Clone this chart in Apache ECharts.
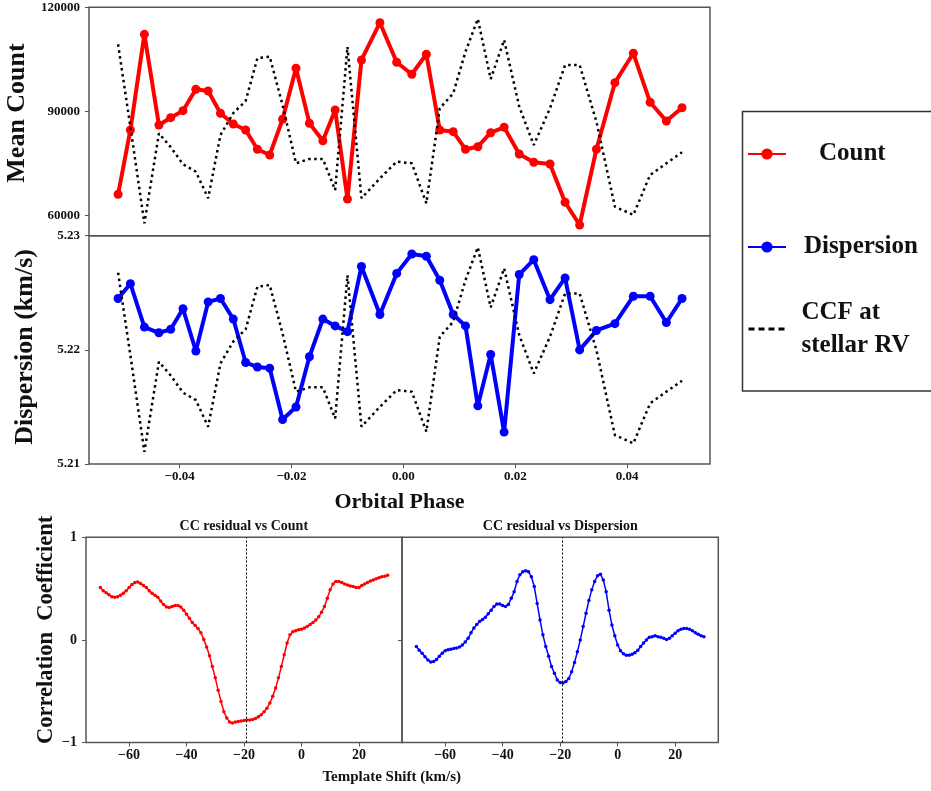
<!DOCTYPE html>
<html>
<head>
<meta charset="utf-8">
<script src="https://cdn.jsdelivr.net/npm/echarts@6/dist/echarts.min.js"></script>
<style>
  html, body { margin: 0; padding: 0; background: #fff; }
  #chart { width: 931px; height: 791px; }
</style>
</head>
<body>
<div id="chart"></div>
<script>
// orbital phase of each exposure
const phase = [-0.0510, -0.0488, -0.0463, -0.0437, -0.0416, -0.0394, -0.0371, -0.0349, -0.0327, -0.0304,
  -0.0282, -0.0261, -0.0239, -0.0216, -0.0192, -0.0168, -0.0144, -0.0122, -0.0100, -0.0075,
  -0.0042, -0.0012, 0.0015, 0.0041, 0.0065, 0.0089, 0.0111, 0.0133, 0.0156, 0.0180,
  0.0207, 0.0233, 0.0262, 0.0289, 0.0315, 0.0345, 0.0378, 0.0411, 0.0441, 0.0470, 0.0498]
const meanCount = [66050, 84600, 112200, 86040, 88150, 90170, 96340, 95850, 89420, 86330,
  84600, 79030, 77390, 87690, 102400, 86530, 81510, 90370, 64690, 104800,
  115560, 104130, 100670, 106440, 84600, 84110, 79030, 79780, 83820, 85380,
  77680, 75280, 74790, 63740, 57190, 79030, 98250, 106730, 92590, 87200, 91030]
const dispersion = [5.2245, 5.2258, 5.2220, 5.2215, 5.2218, 5.2236, 5.2199, 5.2242, 5.2245, 5.2227,
  5.2189, 5.2185, 5.2184, 5.2139, 5.2150, 5.2194, 5.2227, 5.2221, 5.2216, 5.2273,
  5.2231, 5.2267, 5.2284, 5.2282, 5.2261, 5.2231, 5.2221, 5.2151, 5.2196, 5.2128,
  5.2266, 5.2279, 5.2244, 5.2263, 5.2200, 5.2217, 5.2223, 5.2247, 5.2247, 5.2224, 5.2245]
// CCF at stellar RV (arbitrary units, twin axis)
const ccfStellar = [0.838, 0.476, 0.054, 0.448, 0.388, 0.313, 0.280, 0.164, 0.441, 0.537,
  0.590, 0.777, 0.784, 0.572, 0.317, 0.336, 0.336, 0.200, 0.827, 0.164,
  0.251, 0.324, 0.317, 0.142, 0.558, 0.623, 0.806, 0.949, 0.686, 0.857,
  0.565, 0.397, 0.558, 0.747, 0.747, 0.499, 0.127, 0.091, 0.266, 0.317, 0.365]

// template shift (km/s) and correlation coefficients
const shift = [-70, -69, -68, -67, -66, -65, -64, -63, -62, -61, -60, -59, -58, -57, -56, -55, -54, -53, -52, -51,
  -50, -49, -48, -47, -46, -45, -44, -43, -42, -41, -40, -39, -38, -37, -36, -35, -34, -33, -32, -31,
  -30, -29, -28, -27, -26, -25, -24, -23, -22, -21, -20, -19, -18, -17, -16, -15, -14, -13, -12, -11,
  -10, -9, -8, -7, -6, -5, -4, -3, -2, -1, 0, 1, 2, 3, 4, 5, 6, 7, 8, 9,
  10, 11, 12, 13, 14, 15, 16, 17, 18, 19, 20, 21, 22, 23, 24, 25, 26, 27, 28, 29, 30]
const ccCount = [0.51, 0.48, 0.46, 0.44, 0.42, 0.415, 0.42, 0.435, 0.455, 0.48, 0.51, 0.54, 0.56, 0.565, 0.55, 0.53, 0.51, 0.48, 0.455, 0.435,
  0.415, 0.38, 0.345, 0.32, 0.315, 0.325, 0.335, 0.335, 0.32, 0.29, 0.25, 0.21, 0.17, 0.14, 0.11, 0.07, 0.005, -0.07, -0.155, -0.26,
  -0.37, -0.49, -0.60, -0.70, -0.76, -0.80, -0.81, -0.80, -0.795, -0.79, -0.785, -0.78, -0.78, -0.775, -0.765, -0.75, -0.73, -0.70, -0.665, -0.615,
  -0.55, -0.47, -0.37, -0.26, -0.145, -0.03, 0.05, 0.08, 0.09, 0.10, 0.105, 0.115, 0.13, 0.15, 0.17, 0.195, 0.225, 0.27, 0.325, 0.405,
  0.49, 0.545, 0.57, 0.57, 0.56, 0.545, 0.535, 0.525, 0.52, 0.51, 0.51, 0.53, 0.545, 0.56, 0.575, 0.585, 0.595, 0.605, 0.615, 0.62, 0.63]
const ccDispersion = [-0.065, -0.10, -0.13, -0.165, -0.195, -0.215, -0.21, -0.19, -0.16, -0.13, -0.105, -0.095, -0.09, -0.085, -0.08, -0.07, -0.05, -0.02, 0.015, 0.07,
  0.115, 0.15, 0.18, 0.20, 0.22, 0.255, 0.29, 0.325, 0.35, 0.35, 0.335, 0.325, 0.345, 0.405, 0.47, 0.57, 0.635, 0.665, 0.675, 0.665,
  0.615, 0.52, 0.355, 0.195, 0.05, -0.065, -0.16, -0.26, -0.325, -0.39, -0.415, -0.42, -0.405, -0.375, -0.31, -0.22, -0.115, 0.0, 0.13, 0.26,
  0.385, 0.49, 0.57, 0.625, 0.64, 0.585, 0.47, 0.29, 0.145, 0.04, -0.05, -0.105, -0.135, -0.15, -0.15, -0.14, -0.125, -0.10, -0.065, -0.03,
  0.0, 0.025, 0.03, 0.04, 0.03, 0.025, 0.015, 0.005, 0.015, 0.04, 0.065, 0.09, 0.105, 0.11, 0.11, 0.105, 0.09, 0.07, 0.055, 0.04, 0.03]
const stellarRV = -19.3

const countTicks = [60000, 90000, 120000]
const dispTicks = [5.21, 5.22, 5.23]
const phaseTicks = [-0.04, -0.02, 0.00, 0.02, 0.04]
const shiftTicks = [-60, -40, -20, 0, 20]

const serif = 'Liberation Serif, Times New Roman, serif'
const frame = '#555'
const minus = (s) => s.replace('-', '\u2212')

const pairs = (xs, ys) => xs.map((x, i) => [x, ys[i]])

function grid(left, top, width, height) {
  return { left, top, width, height, show: true, borderColor: frame, borderWidth: 1.5,
    containLabel: false, outerBoundsMode: 'none' }
}
const noLine = { show: false, onZero: false }
const tick = { show: true, length: 4, lineStyle: { color: frame, width: 1 } }
const label = { fontFamily: serif, fontWeight: 'bold', fontSize: 13, color: '#111' }
const nameFont = (size, pad) => ({ fontFamily: serif, fontWeight: 'bold', fontSize: size, color: '#111', padding: pad })

const chart = echarts.init(document.getElementById('chart'), null, { renderer: 'canvas' })

const option = {
  animation: false,
  backgroundColor: '#fff',
  grid: [
    grid(89, 7.3, 621, 228.4),
    grid(89, 235.7, 621, 228.4),
    grid(86, 537.3, 316, 205.2),
    grid(402, 537.3, 316.3, 205.2)
  ],
  xAxis: [
    { type: 'value', gridIndex: 0, min: -0.0562, max: 0.0548, axisLine: noLine, axisTick: { show: false },
      axisLabel: { show: false }, splitLine: { show: false } },
    { type: 'value', gridIndex: 1, min: -0.0562, max: 0.0548, axisLine: noLine,
      axisTick: Object.assign({ customValues: phaseTicks }, tick),
      axisLabel: Object.assign({ customValues: phaseTicks, margin: 6, formatter: v => minus(v.toFixed(2)) }, label),
      splitLine: { show: false },
      name: 'Orbital Phase', nameLocation: 'middle', nameGap: 27, nameTextStyle: nameFont(22, 0) },
    { type: 'value', gridIndex: 2, min: -75, max: 35, axisLine: noLine,
      axisTick: Object.assign({ customValues: shiftTicks }, tick),
      axisLabel: Object.assign({ customValues: shiftTicks, margin: 6, formatter: v => minus(String(v)) }, label, { fontSize: 14 }),
      splitLine: { show: false } },
    { type: 'value', gridIndex: 3, min: -75, max: 35, axisLine: noLine,
      axisTick: Object.assign({ customValues: shiftTicks }, tick),
      axisLabel: Object.assign({ customValues: shiftTicks, margin: 6, formatter: v => minus(String(v)) }, label, { fontSize: 14 }),
      splitLine: { show: false } }
  ],
  yAxis: [
    { type: 'value', gridIndex: 0, min: 54100, max: 120000, axisLine: noLine,
      axisTick: Object.assign({ customValues: countTicks }, tick),
      axisLabel: Object.assign({ customValues: countTicks, margin: 9, formatter: v => String(v) }, label),
      splitLine: { show: false },
      name: 'Mean Count', nameLocation: 'middle', nameGap: 54, nameTextStyle: nameFont(26, [0, 0, 0, 17]) },
    { type: 'value', gridIndex: 1, min: 5.21, max: 5.23, axisLine: noLine,
      axisTick: Object.assign({ customValues: dispTicks }, tick),
      axisLabel: Object.assign({ customValues: dispTicks, margin: 9, formatter: v => v.toFixed(2) }, label),
      splitLine: { show: false },
      name: 'Dispersion (km/s)', nameLocation: 'middle', nameGap: 51, nameTextStyle: nameFont(26, [0, 0, 0, 6]) },
    { type: 'value', gridIndex: 2, min: -1, max: 1, interval: 1, axisLine: noLine,
      axisTick: tick,
      axisLabel: Object.assign({ margin: 9, formatter: v => minus(String(v)) }, label, { fontSize: 14 }),
      splitLine: { show: false },
      name: 'Correlation  Coefficient', nameLocation: 'middle', nameGap: 26, nameTextStyle: nameFont(22.5, [0, 0, 0, 20]) },
    { type: 'value', gridIndex: 3, min: -1, max: 1, interval: 1, axisLine: noLine,
      axisTick: tick, axisLabel: { show: false }, splitLine: { show: false } },
    // twin axes for the CCF curve
    { type: 'value', gridIndex: 0, min: 0, max: 1, show: false },
    { type: 'value', gridIndex: 1, min: 0, max: 1, show: false }
  ],
  legend: [
    { data: ['Count'], left: 747, top: 141, padding: 0, itemWidth: 38, itemHeight: 14,
      textStyle: { fontFamily: serif, fontWeight: 'bold', fontSize: 25, color: '#111', lineHeight: 26, padding: [0, 0, 0, 28] } },
    { data: ['Dispersion'], left: 747, top: 234, padding: 0, itemWidth: 38, itemHeight: 14,
      textStyle: { fontFamily: serif, fontWeight: 'bold', fontSize: 25, color: '#111', lineHeight: 26, padding: [0, 0, 0, 13] } },
    { data: ['CCF at stellar RV'], left: 747, top: 278, padding: 0, itemWidth: 38, itemHeight: 14,
      itemStyle: { opacity: 0 },
      lineStyle: { width: 3, type: [6, 4] },
      formatter: () => 'CCF at\nstellar RV',
      textStyle: { fontFamily: serif, fontWeight: 'bold', fontSize: 25, color: '#111', lineHeight: 33, padding: [36, 0, 0, 10] } }
  ],
  graphic: [
    { type: 'rect', shape: { x: 742.5, y: 111.5, width: 200, height: 279.5 },
      style: { fill: 'none', stroke: '#333', lineWidth: 1.5 } },
    { type: 'text', x: 243.8, y: 526.7,
      style: { text: 'CC residual vs Count', fill: '#111', font: 'bold 14px ' + serif, textAlign: 'center', textVerticalAlign: 'middle' } },
    { type: 'text', x: 560.3, y: 526.7,
      style: { text: 'CC residual vs Dispersion', fill: '#111', font: 'bold 14px ' + serif, textAlign: 'center', textVerticalAlign: 'middle' } },
    { type: 'text', x: 391.7, y: 776.7,
      style: { text: 'Template Shift (km/s)', fill: '#111', font: 'bold 15px ' + serif, textAlign: 'center', textVerticalAlign: 'middle' } }
  ],
  series: [
    { name: 'Count', type: 'line', xAxisIndex: 0, yAxisIndex: 0, data: pairs(phase, meanCount),
      color: '#ff0000', lineStyle: { width: 4 }, symbol: 'circle', symbolSize: 9, z: 2 },
    { name: 'CCF at stellar RV', type: 'line', xAxisIndex: 0, yAxisIndex: 4, data: pairs(phase, ccfStellar),
      color: '#000', symbol: 'none', lineStyle: { width: 2.5, type: [2.5, 3.5], cap: 'butt' }, z: 3 },
    { name: 'Dispersion', type: 'line', xAxisIndex: 1, yAxisIndex: 1, data: pairs(phase, dispersion),
      color: '#0000ff', lineStyle: { width: 4 }, symbol: 'circle', symbolSize: 9, z: 2 },
    { name: 'CCF at stellar RV', type: 'line', xAxisIndex: 1, yAxisIndex: 5, data: pairs(phase, ccfStellar),
      color: '#000', symbol: 'none', lineStyle: { width: 2.5, type: [2.5, 3.5], cap: 'butt' }, z: 3 },
    { name: 'CC residual vs Count', type: 'line', xAxisIndex: 2, yAxisIndex: 2, data: pairs(shift, ccCount),
      color: '#ff0000', lineStyle: { width: 1.5 }, symbol: 'circle', symbolSize: 3.5,
      markLine: { silent: true, symbol: 'none', label: { show: false },
        lineStyle: { color: '#000', width: 1, type: [2, 2] }, data: [{ xAxis: stellarRV }] } },
    { name: 'CC residual vs Dispersion', type: 'line', xAxisIndex: 3, yAxisIndex: 3, data: pairs(shift, ccDispersion),
      color: '#0000ff', lineStyle: { width: 1.5 }, symbol: 'circle', symbolSize: 3.5,
      markLine: { silent: true, symbol: 'none', label: { show: false },
        lineStyle: { color: '#000', width: 1, type: [2, 2] }, data: [{ xAxis: stellarRV }] } }
  ]
}
chart.setOption(option)
</script>
</body>
</html>
